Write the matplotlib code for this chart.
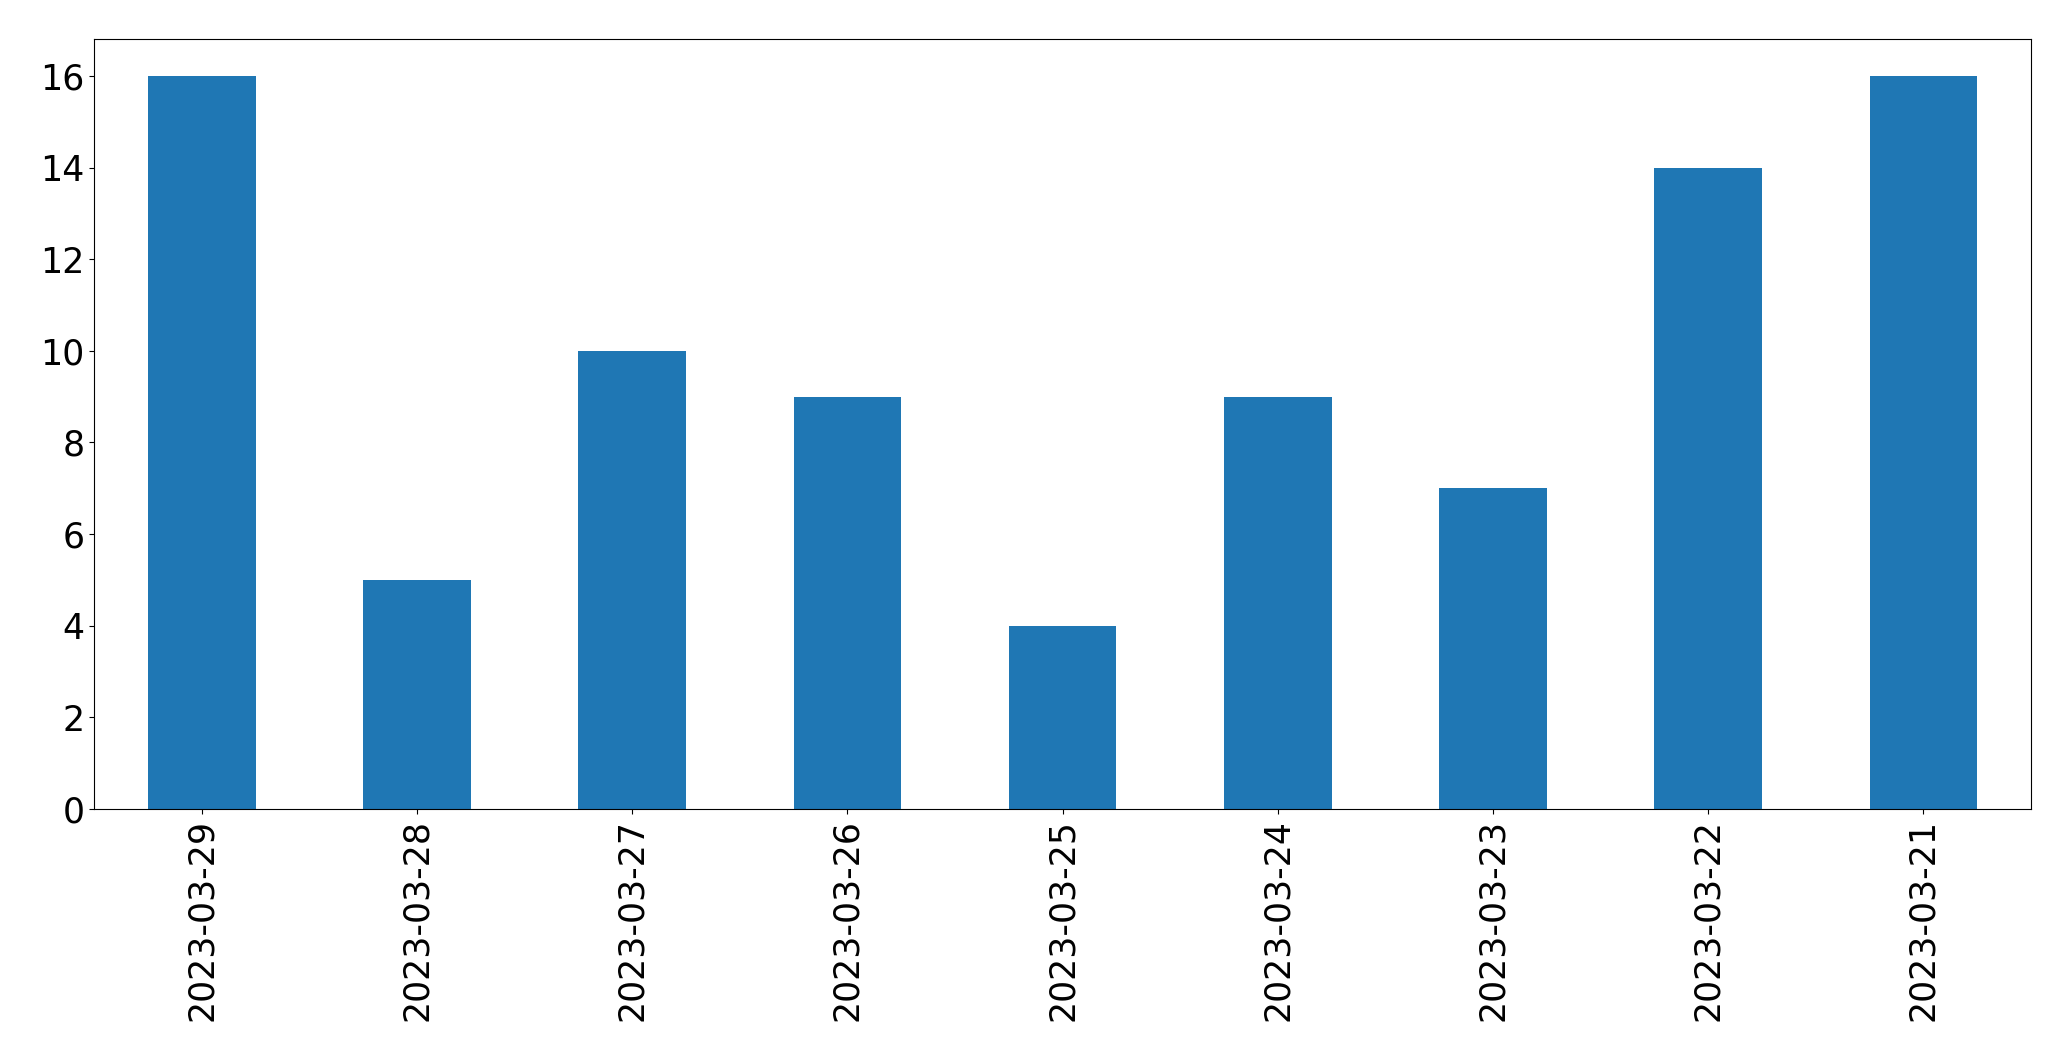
import matplotlib
matplotlib.use("Agg")
import matplotlib.pyplot as plt
import numpy as np

dates = ["2023-03-29", "2023-03-28", "2023-03-27", "2023-03-26", "2023-03-25",
         "2023-03-24", "2023-03-23", "2023-03-22", "2023-03-21"]
counts = [16, 5, 10, 9, 4, 9, 7, 14, 16]

fig = plt.figure(figsize=(20.71, 10.61), dpi=100)
ax = fig.add_axes([94.3 / 2071, 1 - 809 / 1061, (2031 - 94.3) / 2071, (809 - 39.3) / 1061])
x = np.arange(len(dates))
ax.bar(x, counts, width=0.5, color="#1f77b4")
ax.set_xlim(-0.5, len(dates) - 0.5)
ax.set_ylim(0, 16.8)
ax.set_yticks(range(0, 17, 2))
ax.set_xticks(x)
ax.set_xticklabels(dates, rotation=90)
ax.tick_params(labelsize=25)
fig.savefig("out.png", dpi=100)
